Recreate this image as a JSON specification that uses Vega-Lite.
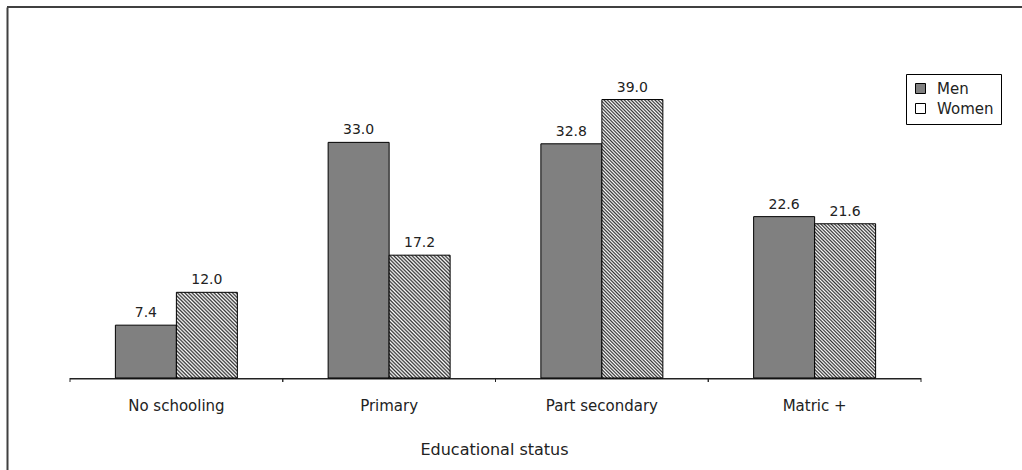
{
"$schema":"https://vega.github.io/schema/vega-lite/v6.json",
"width":1015,"height":463,
"autosize":{"type":"none"},
"padding":{"left":7,"top":7,"right":0,"bottom":0},
"background":"#ffffff",
"config":{"view":{"stroke":null},"font":"DejaVu Sans","axis":{"grid":false}},
"data":{"values":[
{"edu":"No schooling","sex":"Men","value":7.4},
{"edu":"No schooling","sex":"Women","value":12.0},
{"edu":"Primary","sex":"Men","value":33.0},
{"edu":"Primary","sex":"Women","value":17.2},
{"edu":"Part secondary","sex":"Men","value":32.8},
{"edu":"Part secondary","sex":"Women","value":39.0},
{"edu":"Matric +","sex":"Men","value":22.6},
{"edu":"Matric +","sex":"Women","value":21.6}
]},
"layer":[
{"mark":{"type":"bar","color":"#222"},
"transform":[{"filter":"datum.sex === 'Men'"}],
"encoding":{
"x":{"field":"edu","type":"nominal","title":"Educational status","sort":["No schooling","Primary","Part secondary","Matric +"],
"scale":{"paddingInner":0,"paddingOuter":0.38543,"align":0.38415},
"axis":{"orient":"bottom","offset":-92,"domain":false,"ticks":false,"tickSize":0,"labelAngle":0,"labelPadding":20,"labelFont":"DejaVu Sans","labelFontSize":15,"labelColor":"#222","titleFont":"DejaVu Sans","titleFontSize":16,"titleFontWeight":"normal","titleColor":"#222","titlePadding":28,"titleX":487}},
"y":{"datum":0,"type":"quantitative","scale":{"domain":[-12.886,51.96],"nice":false,"zero":false},
"axis":{"title":null,"domain":true,"domainColor":"#404040","domainWidth":2,"ticks":false,"labels":false,"grid":false}},
"y2":{"datum":-0.21}}},
{"mark":{"type":"rule","color":"#222","strokeWidth":1},
"transform":[{"filter":"datum.sex === 'Men'"}],
"encoding":{
"x":{"field":"edu","type":"nominal","title":"Educational status","sort":["No schooling","Primary","Part secondary","Matric +"],"bandPosition":0},
"y":{"datum":0,"type":"quantitative","title":null},
"y2":{"datum":-0.56}}},
{"mark":{"type":"rule","color":"#222","strokeWidth":1},
"transform":[{"filter":"datum.sex === 'Men'"}],
"encoding":{
"x":{"field":"edu","type":"nominal","title":"Educational status","sort":["No schooling","Primary","Part secondary","Matric +"],"bandPosition":1},
"y":{"datum":0,"type":"quantitative","title":null},
"y2":{"datum":-0.56}}},
{"data":{"values":[{}]},
"mark":{"type":"rule","color":"#404040","strokeWidth":2},
"encoding":{"y":{"datum":51.96,"type":"quantitative","title":null}}},
{"mark":{"type":"bar","stroke":"#000","strokeWidth":1},
"encoding":{
"x":{"field":"edu","type":"nominal","title":"Educational status","sort":["No schooling","Primary","Part secondary","Matric +"]},
"xOffset":{"field":"sex","type":"nominal","sort":["Men","Women"],"scale":{"paddingInner":0,"paddingOuter":0.7439}},
"y":{"field":"value","type":"quantitative","title":null},
"y2":{"datum":0},
"fill":{"field":"sex","type":"nominal","sort":["Men","Women"],
"scale":{"domain":["Men","Women"],"range":["#808080","#ffffff"]},
"condition":[
{"test":"datum.sex === 'Women' && datum.edu === 'No schooling'","value":{"gradient":"linear","x1":0,"y1":1,"x2":0.8088,"y2":-0.1361,"stops":[
{"offset":0,"color":"#fff"},{"offset":0.0125,"color":"#333"},{"offset":0.025,"color":"#fff"},{"offset":0.0375,"color":"#333"},{"offset":0.05,"color":"#fff"},{"offset":0.0625,"color":"#333"},{"offset":0.075,"color":"#fff"},{"offset":0.0875,"color":"#333"},{"offset":0.1,"color":"#fff"},{"offset":0.1125,"color":"#333"},{"offset":0.125,"color":"#fff"},{"offset":0.1375,"color":"#333"},{"offset":0.15,"color":"#fff"},{"offset":0.1625,"color":"#333"},{"offset":0.175,"color":"#fff"},{"offset":0.1875,"color":"#333"},{"offset":0.2,"color":"#fff"},{"offset":0.2125,"color":"#333"},{"offset":0.225,"color":"#fff"},{"offset":0.2375,"color":"#333"},{"offset":0.25,"color":"#fff"},{"offset":0.2625,"color":"#333"},{"offset":0.275,"color":"#fff"},{"offset":0.2875,"color":"#333"},{"offset":0.3,"color":"#fff"},{"offset":0.3125,"color":"#333"},{"offset":0.325,"color":"#fff"},{"offset":0.3375,"color":"#333"},{"offset":0.35,"color":"#fff"},{"offset":0.3625,"color":"#333"},{"offset":0.375,"color":"#fff"},{"offset":0.3875,"color":"#333"},{"offset":0.4,"color":"#fff"},{"offset":0.4125,"color":"#333"},{"offset":0.425,"color":"#fff"},{"offset":0.4375,"color":"#333"},{"offset":0.45,"color":"#fff"},{"offset":0.4625,"color":"#333"},{"offset":0.475,"color":"#fff"},{"offset":0.4875,"color":"#333"},{"offset":0.5,"color":"#fff"},{"offset":0.5125,"color":"#333"},{"offset":0.525,"color":"#fff"},{"offset":0.5375,"color":"#333"},{"offset":0.55,"color":"#fff"},{"offset":0.5625,"color":"#333"},{"offset":0.575,"color":"#fff"},{"offset":0.5875,"color":"#333"},{"offset":0.6,"color":"#fff"},{"offset":0.6125,"color":"#333"},{"offset":0.625,"color":"#fff"},{"offset":0.6375,"color":"#333"},{"offset":0.65,"color":"#fff"},{"offset":0.6625,"color":"#333"},{"offset":0.675,"color":"#fff"},{"offset":0.6875,"color":"#333"},{"offset":0.7,"color":"#fff"},{"offset":0.7125,"color":"#333"},{"offset":0.725,"color":"#fff"},{"offset":0.7375,"color":"#333"},{"offset":0.75,"color":"#fff"},{"offset":0.7625,"color":"#333"},{"offset":0.775,"color":"#fff"},{"offset":0.7875,"color":"#333"},{"offset":0.8,"color":"#fff"},{"offset":0.8125,"color":"#333"},{"offset":0.825,"color":"#fff"},{"offset":0.8375,"color":"#333"},{"offset":0.85,"color":"#fff"},{"offset":0.8625,"color":"#333"},{"offset":0.875,"color":"#fff"},{"offset":0.8875,"color":"#333"},{"offset":0.9,"color":"#fff"},{"offset":0.9125,"color":"#333"},{"offset":0.925,"color":"#fff"},{"offset":0.9375,"color":"#333"},{"offset":0.95,"color":"#fff"},{"offset":0.9625,"color":"#333"},{"offset":0.975,"color":"#fff"},{"offset":0.9875,"color":"#333"},{"offset":1,"color":"#fff"}]}},
{"test":"datum.sex === 'Women' && datum.edu === 'Primary'","value":{"gradient":"linear","x1":0,"y1":1,"x2":0.5963,"y2":-0.2005,"stops":[
{"offset":0,"color":"#fff"},{"offset":0.01,"color":"#333"},{"offset":0.02,"color":"#fff"},{"offset":0.03,"color":"#333"},{"offset":0.04,"color":"#fff"},{"offset":0.05,"color":"#333"},{"offset":0.06,"color":"#fff"},{"offset":0.07,"color":"#333"},{"offset":0.08,"color":"#fff"},{"offset":0.09,"color":"#333"},{"offset":0.1,"color":"#fff"},{"offset":0.11,"color":"#333"},{"offset":0.12,"color":"#fff"},{"offset":0.13,"color":"#333"},{"offset":0.14,"color":"#fff"},{"offset":0.15,"color":"#333"},{"offset":0.16,"color":"#fff"},{"offset":0.17,"color":"#333"},{"offset":0.18,"color":"#fff"},{"offset":0.19,"color":"#333"},{"offset":0.2,"color":"#fff"},{"offset":0.21,"color":"#333"},{"offset":0.22,"color":"#fff"},{"offset":0.23,"color":"#333"},{"offset":0.24,"color":"#fff"},{"offset":0.25,"color":"#333"},{"offset":0.26,"color":"#fff"},{"offset":0.27,"color":"#333"},{"offset":0.28,"color":"#fff"},{"offset":0.29,"color":"#333"},{"offset":0.3,"color":"#fff"},{"offset":0.31,"color":"#333"},{"offset":0.32,"color":"#fff"},{"offset":0.33,"color":"#333"},{"offset":0.34,"color":"#fff"},{"offset":0.35,"color":"#333"},{"offset":0.36,"color":"#fff"},{"offset":0.37,"color":"#333"},{"offset":0.38,"color":"#fff"},{"offset":0.39,"color":"#333"},{"offset":0.4,"color":"#fff"},{"offset":0.41,"color":"#333"},{"offset":0.42,"color":"#fff"},{"offset":0.43,"color":"#333"},{"offset":0.44,"color":"#fff"},{"offset":0.45,"color":"#333"},{"offset":0.46,"color":"#fff"},{"offset":0.47,"color":"#333"},{"offset":0.48,"color":"#fff"},{"offset":0.49,"color":"#333"},{"offset":0.5,"color":"#fff"},{"offset":0.51,"color":"#333"},{"offset":0.52,"color":"#fff"},{"offset":0.53,"color":"#333"},{"offset":0.54,"color":"#fff"},{"offset":0.55,"color":"#333"},{"offset":0.56,"color":"#fff"},{"offset":0.57,"color":"#333"},{"offset":0.58,"color":"#fff"},{"offset":0.59,"color":"#333"},{"offset":0.6,"color":"#fff"},{"offset":0.61,"color":"#333"},{"offset":0.62,"color":"#fff"},{"offset":0.63,"color":"#333"},{"offset":0.64,"color":"#fff"},{"offset":0.65,"color":"#333"},{"offset":0.66,"color":"#fff"},{"offset":0.67,"color":"#333"},{"offset":0.68,"color":"#fff"},{"offset":0.69,"color":"#333"},{"offset":0.7,"color":"#fff"},{"offset":0.71,"color":"#333"},{"offset":0.72,"color":"#fff"},{"offset":0.73,"color":"#333"},{"offset":0.74,"color":"#fff"},{"offset":0.75,"color":"#333"},{"offset":0.76,"color":"#fff"},{"offset":0.77,"color":"#333"},{"offset":0.78,"color":"#fff"},{"offset":0.79,"color":"#333"},{"offset":0.8,"color":"#fff"},{"offset":0.81,"color":"#333"},{"offset":0.82,"color":"#fff"},{"offset":0.83,"color":"#333"},{"offset":0.84,"color":"#fff"},{"offset":0.85,"color":"#333"},{"offset":0.86,"color":"#fff"},{"offset":0.87,"color":"#333"},{"offset":0.88,"color":"#fff"},{"offset":0.89,"color":"#333"},{"offset":0.9,"color":"#fff"},{"offset":0.91,"color":"#333"},{"offset":0.92,"color":"#fff"},{"offset":0.93,"color":"#333"},{"offset":0.94,"color":"#fff"},{"offset":0.95,"color":"#333"},{"offset":0.96,"color":"#fff"},{"offset":0.97,"color":"#333"},{"offset":0.98,"color":"#fff"},{"offset":0.99,"color":"#333"},{"offset":1,"color":"#fff"}]}},
{"test":"datum.sex === 'Women' && datum.edu === 'Part secondary'","value":{"gradient":"linear","x1":0,"y1":1,"x2":0.25483,"y2":-0.1633,"stops":[
{"offset":0,"color":"#fff"},{"offset":0.005,"color":"#333"},{"offset":0.01,"color":"#fff"},{"offset":0.015,"color":"#333"},{"offset":0.02,"color":"#fff"},{"offset":0.025,"color":"#333"},{"offset":0.03,"color":"#fff"},{"offset":0.035,"color":"#333"},{"offset":0.04,"color":"#fff"},{"offset":0.045,"color":"#333"},{"offset":0.05,"color":"#fff"},{"offset":0.055,"color":"#333"},{"offset":0.06,"color":"#fff"},{"offset":0.065,"color":"#333"},{"offset":0.07,"color":"#fff"},{"offset":0.075,"color":"#333"},{"offset":0.08,"color":"#fff"},{"offset":0.085,"color":"#333"},{"offset":0.09,"color":"#fff"},{"offset":0.095,"color":"#333"},{"offset":0.1,"color":"#fff"},{"offset":0.105,"color":"#333"},{"offset":0.11,"color":"#fff"},{"offset":0.115,"color":"#333"},{"offset":0.12,"color":"#fff"},{"offset":0.125,"color":"#333"},{"offset":0.13,"color":"#fff"},{"offset":0.135,"color":"#333"},{"offset":0.14,"color":"#fff"},{"offset":0.145,"color":"#333"},{"offset":0.15,"color":"#fff"},{"offset":0.155,"color":"#333"},{"offset":0.16,"color":"#fff"},{"offset":0.165,"color":"#333"},{"offset":0.17,"color":"#fff"},{"offset":0.175,"color":"#333"},{"offset":0.18,"color":"#fff"},{"offset":0.185,"color":"#333"},{"offset":0.19,"color":"#fff"},{"offset":0.195,"color":"#333"},{"offset":0.2,"color":"#fff"},{"offset":0.205,"color":"#333"},{"offset":0.21,"color":"#fff"},{"offset":0.215,"color":"#333"},{"offset":0.22,"color":"#fff"},{"offset":0.225,"color":"#333"},{"offset":0.23,"color":"#fff"},{"offset":0.235,"color":"#333"},{"offset":0.24,"color":"#fff"},{"offset":0.245,"color":"#333"},{"offset":0.25,"color":"#fff"},{"offset":0.255,"color":"#333"},{"offset":0.26,"color":"#fff"},{"offset":0.265,"color":"#333"},{"offset":0.27,"color":"#fff"},{"offset":0.275,"color":"#333"},{"offset":0.28,"color":"#fff"},{"offset":0.285,"color":"#333"},{"offset":0.29,"color":"#fff"},{"offset":0.295,"color":"#333"},{"offset":0.3,"color":"#fff"},{"offset":0.305,"color":"#333"},{"offset":0.31,"color":"#fff"},{"offset":0.315,"color":"#333"},{"offset":0.32,"color":"#fff"},{"offset":0.325,"color":"#333"},{"offset":0.33,"color":"#fff"},{"offset":0.335,"color":"#333"},{"offset":0.34,"color":"#fff"},{"offset":0.345,"color":"#333"},{"offset":0.35,"color":"#fff"},{"offset":0.355,"color":"#333"},{"offset":0.36,"color":"#fff"},{"offset":0.365,"color":"#333"},{"offset":0.37,"color":"#fff"},{"offset":0.375,"color":"#333"},{"offset":0.38,"color":"#fff"},{"offset":0.385,"color":"#333"},{"offset":0.39,"color":"#fff"},{"offset":0.395,"color":"#333"},{"offset":0.4,"color":"#fff"},{"offset":0.405,"color":"#333"},{"offset":0.41,"color":"#fff"},{"offset":0.415,"color":"#333"},{"offset":0.42,"color":"#fff"},{"offset":0.425,"color":"#333"},{"offset":0.43,"color":"#fff"},{"offset":0.435,"color":"#333"},{"offset":0.44,"color":"#fff"},{"offset":0.445,"color":"#333"},{"offset":0.45,"color":"#fff"},{"offset":0.455,"color":"#333"},{"offset":0.46,"color":"#fff"},{"offset":0.465,"color":"#333"},{"offset":0.47,"color":"#fff"},{"offset":0.475,"color":"#333"},{"offset":0.48,"color":"#fff"},{"offset":0.485,"color":"#333"},{"offset":0.49,"color":"#fff"},{"offset":0.495,"color":"#333"},{"offset":0.5,"color":"#fff"},{"offset":0.505,"color":"#333"},{"offset":0.51,"color":"#fff"},{"offset":0.515,"color":"#333"},{"offset":0.52,"color":"#fff"},{"offset":0.525,"color":"#333"},{"offset":0.53,"color":"#fff"},{"offset":0.535,"color":"#333"},{"offset":0.54,"color":"#fff"},{"offset":0.545,"color":"#333"},{"offset":0.55,"color":"#fff"},{"offset":0.555,"color":"#333"},{"offset":0.56,"color":"#fff"},{"offset":0.565,"color":"#333"},{"offset":0.57,"color":"#fff"},{"offset":0.575,"color":"#333"},{"offset":0.58,"color":"#fff"},{"offset":0.585,"color":"#333"},{"offset":0.59,"color":"#fff"},{"offset":0.595,"color":"#333"},{"offset":0.6,"color":"#fff"},{"offset":0.605,"color":"#333"},{"offset":0.61,"color":"#fff"},{"offset":0.615,"color":"#333"},{"offset":0.62,"color":"#fff"},{"offset":0.625,"color":"#333"},{"offset":0.63,"color":"#fff"},{"offset":0.635,"color":"#333"},{"offset":0.64,"color":"#fff"},{"offset":0.645,"color":"#333"},{"offset":0.65,"color":"#fff"},{"offset":0.655,"color":"#333"},{"offset":0.66,"color":"#fff"},{"offset":0.665,"color":"#333"},{"offset":0.67,"color":"#fff"},{"offset":0.675,"color":"#333"},{"offset":0.68,"color":"#fff"},{"offset":0.685,"color":"#333"},{"offset":0.69,"color":"#fff"},{"offset":0.695,"color":"#333"},{"offset":0.7,"color":"#fff"},{"offset":0.705,"color":"#333"},{"offset":0.71,"color":"#fff"},{"offset":0.715,"color":"#333"},{"offset":0.72,"color":"#fff"},{"offset":0.725,"color":"#333"},{"offset":0.73,"color":"#fff"},{"offset":0.735,"color":"#333"},{"offset":0.74,"color":"#fff"},{"offset":0.745,"color":"#333"},{"offset":0.75,"color":"#fff"},{"offset":0.755,"color":"#333"},{"offset":0.76,"color":"#fff"},{"offset":0.765,"color":"#333"},{"offset":0.77,"color":"#fff"},{"offset":0.775,"color":"#333"},{"offset":0.78,"color":"#fff"},{"offset":0.785,"color":"#333"},{"offset":0.79,"color":"#fff"},{"offset":0.795,"color":"#333"},{"offset":0.8,"color":"#fff"},{"offset":0.805,"color":"#333"},{"offset":0.81,"color":"#fff"},{"offset":0.815,"color":"#333"},{"offset":0.82,"color":"#fff"},{"offset":0.825,"color":"#333"},{"offset":0.83,"color":"#fff"},{"offset":0.835,"color":"#333"},{"offset":0.84,"color":"#fff"},{"offset":0.845,"color":"#333"},{"offset":0.85,"color":"#fff"},{"offset":0.855,"color":"#333"},{"offset":0.86,"color":"#fff"},{"offset":0.865,"color":"#333"},{"offset":0.87,"color":"#fff"},{"offset":0.875,"color":"#333"},{"offset":0.88,"color":"#fff"},{"offset":0.885,"color":"#333"},{"offset":0.89,"color":"#fff"},{"offset":0.895,"color":"#333"},{"offset":0.9,"color":"#fff"},{"offset":0.905,"color":"#333"},{"offset":0.91,"color":"#fff"},{"offset":0.915,"color":"#333"},{"offset":0.92,"color":"#fff"},{"offset":0.925,"color":"#333"},{"offset":0.93,"color":"#fff"},{"offset":0.935,"color":"#333"},{"offset":0.94,"color":"#fff"},{"offset":0.945,"color":"#333"},{"offset":0.95,"color":"#fff"},{"offset":0.955,"color":"#333"},{"offset":0.96,"color":"#fff"},{"offset":0.965,"color":"#333"},{"offset":0.97,"color":"#fff"},{"offset":0.975,"color":"#333"},{"offset":0.98,"color":"#fff"},{"offset":0.985,"color":"#333"},{"offset":0.99,"color":"#fff"},{"offset":0.995,"color":"#333"},{"offset":1,"color":"#fff"}]}},
{"test":"datum.sex === 'Women' && datum.edu === 'Matric +'","value":{"gradient":"linear","x1":0,"y1":1,"x2":0.47729,"y2":-0.2067,"stops":[
{"offset":0,"color":"#fff"},{"offset":0.008,"color":"#333"},{"offset":0.016,"color":"#fff"},{"offset":0.024,"color":"#333"},{"offset":0.032,"color":"#fff"},{"offset":0.04,"color":"#333"},{"offset":0.048,"color":"#fff"},{"offset":0.056,"color":"#333"},{"offset":0.064,"color":"#fff"},{"offset":0.072,"color":"#333"},{"offset":0.08,"color":"#fff"},{"offset":0.088,"color":"#333"},{"offset":0.096,"color":"#fff"},{"offset":0.104,"color":"#333"},{"offset":0.112,"color":"#fff"},{"offset":0.12,"color":"#333"},{"offset":0.128,"color":"#fff"},{"offset":0.136,"color":"#333"},{"offset":0.144,"color":"#fff"},{"offset":0.152,"color":"#333"},{"offset":0.16,"color":"#fff"},{"offset":0.168,"color":"#333"},{"offset":0.176,"color":"#fff"},{"offset":0.184,"color":"#333"},{"offset":0.192,"color":"#fff"},{"offset":0.2,"color":"#333"},{"offset":0.208,"color":"#fff"},{"offset":0.216,"color":"#333"},{"offset":0.224,"color":"#fff"},{"offset":0.232,"color":"#333"},{"offset":0.24,"color":"#fff"},{"offset":0.248,"color":"#333"},{"offset":0.256,"color":"#fff"},{"offset":0.264,"color":"#333"},{"offset":0.272,"color":"#fff"},{"offset":0.28,"color":"#333"},{"offset":0.288,"color":"#fff"},{"offset":0.296,"color":"#333"},{"offset":0.304,"color":"#fff"},{"offset":0.312,"color":"#333"},{"offset":0.32,"color":"#fff"},{"offset":0.328,"color":"#333"},{"offset":0.336,"color":"#fff"},{"offset":0.344,"color":"#333"},{"offset":0.352,"color":"#fff"},{"offset":0.36,"color":"#333"},{"offset":0.368,"color":"#fff"},{"offset":0.376,"color":"#333"},{"offset":0.384,"color":"#fff"},{"offset":0.392,"color":"#333"},{"offset":0.4,"color":"#fff"},{"offset":0.408,"color":"#333"},{"offset":0.416,"color":"#fff"},{"offset":0.424,"color":"#333"},{"offset":0.432,"color":"#fff"},{"offset":0.44,"color":"#333"},{"offset":0.448,"color":"#fff"},{"offset":0.456,"color":"#333"},{"offset":0.464,"color":"#fff"},{"offset":0.472,"color":"#333"},{"offset":0.48,"color":"#fff"},{"offset":0.488,"color":"#333"},{"offset":0.496,"color":"#fff"},{"offset":0.504,"color":"#333"},{"offset":0.512,"color":"#fff"},{"offset":0.52,"color":"#333"},{"offset":0.528,"color":"#fff"},{"offset":0.536,"color":"#333"},{"offset":0.544,"color":"#fff"},{"offset":0.552,"color":"#333"},{"offset":0.56,"color":"#fff"},{"offset":0.568,"color":"#333"},{"offset":0.576,"color":"#fff"},{"offset":0.584,"color":"#333"},{"offset":0.592,"color":"#fff"},{"offset":0.6,"color":"#333"},{"offset":0.608,"color":"#fff"},{"offset":0.616,"color":"#333"},{"offset":0.624,"color":"#fff"},{"offset":0.632,"color":"#333"},{"offset":0.64,"color":"#fff"},{"offset":0.648,"color":"#333"},{"offset":0.656,"color":"#fff"},{"offset":0.664,"color":"#333"},{"offset":0.672,"color":"#fff"},{"offset":0.68,"color":"#333"},{"offset":0.688,"color":"#fff"},{"offset":0.696,"color":"#333"},{"offset":0.704,"color":"#fff"},{"offset":0.712,"color":"#333"},{"offset":0.72,"color":"#fff"},{"offset":0.728,"color":"#333"},{"offset":0.736,"color":"#fff"},{"offset":0.744,"color":"#333"},{"offset":0.752,"color":"#fff"},{"offset":0.76,"color":"#333"},{"offset":0.768,"color":"#fff"},{"offset":0.776,"color":"#333"},{"offset":0.784,"color":"#fff"},{"offset":0.792,"color":"#333"},{"offset":0.8,"color":"#fff"},{"offset":0.808,"color":"#333"},{"offset":0.816,"color":"#fff"},{"offset":0.824,"color":"#333"},{"offset":0.832,"color":"#fff"},{"offset":0.84,"color":"#333"},{"offset":0.848,"color":"#fff"},{"offset":0.856,"color":"#333"},{"offset":0.864,"color":"#fff"},{"offset":0.872,"color":"#333"},{"offset":0.88,"color":"#fff"},{"offset":0.888,"color":"#333"},{"offset":0.896,"color":"#fff"},{"offset":0.904,"color":"#333"},{"offset":0.912,"color":"#fff"},{"offset":0.92,"color":"#333"},{"offset":0.928,"color":"#fff"},{"offset":0.936,"color":"#333"},{"offset":0.944,"color":"#fff"},{"offset":0.952,"color":"#333"},{"offset":0.96,"color":"#fff"},{"offset":0.968,"color":"#333"},{"offset":0.976,"color":"#fff"},{"offset":0.984,"color":"#333"},{"offset":0.992,"color":"#fff"},{"offset":1,"color":"#333"}]}}
],
"legend":{"orient":"none","legendX":899,"legendY":67,"title":null,"direction":"vertical","symbolType":"square","symbolSize":100,"symbolStrokeColor":"#000","symbolStrokeWidth":1,"labelFont":"DejaVu Sans","labelFontSize":15,"labelColor":"#222","labelOffset":9,"padding":7,"rowPadding":4,"strokeColor":"#000","fillColor":"#fff",
"encode":{"symbols":{"update":{"stroke":{"value":"#000"},"strokeWidth":{"value":1},"size":{"value":100},"shape":{"value":"square"},"opacity":{"value":1},"fill":[{"test":"datum.value === 'Women'","value":{"gradient":"linear","x1":0,"y1":1,"x2":1,"y2":0,"stops":[{"offset":0,"color":"#fff"},{"offset":0.1,"color":"#333"},{"offset":0.2,"color":"#fff"},{"offset":0.3,"color":"#333"},{"offset":0.4,"color":"#fff"},{"offset":0.5,"color":"#333"},{"offset":0.6,"color":"#fff"},{"offset":0.7,"color":"#333"},{"offset":0.8,"color":"#fff"},{"offset":0.9,"color":"#333"},{"offset":1,"color":"#fff"}]}},{"value":"#808080"}]}}}}}}},
{"mark":{"type":"text","baseline":"alphabetic","dy":-8,"font":"DejaVu Sans","fontSize":14,"color":"#222"},
"encoding":{
"x":{"field":"edu","type":"nominal","title":"Educational status","sort":["No schooling","Primary","Part secondary","Matric +"]},
"xOffset":{"field":"sex","type":"nominal","sort":["Men","Women"]},
"y":{"field":"value","type":"quantitative","title":null},
"text":{"field":"value","type":"quantitative","format":".1f"}}}
]
}
